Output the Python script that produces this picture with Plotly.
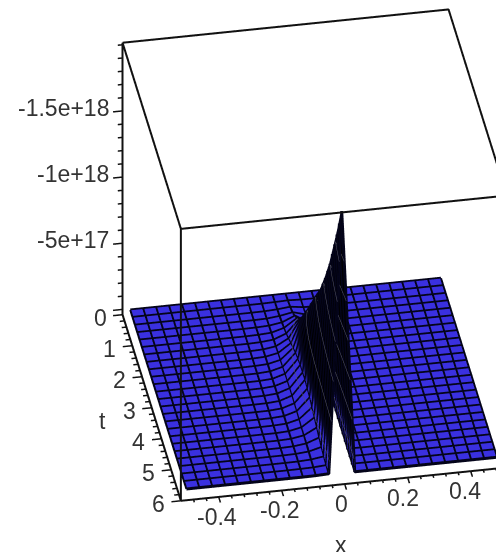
import plotly.graph_objects as go

x_values = [-0.497,-0.4559,-0.4148,-0.3737,-0.3326,-0.2915,-0.2504,-0.2093,-0.1682,-0.1271,-0.086,-0.0449,-0.0038,
            0.0373,0.0784,0.1195,0.1606,0.2017,0.2428,0.2839,0.325,0.3661,0.4072,0.4483,0.4894]
t_values = [0.05,0.29,0.54,0.78,1.02,1.26,1.5,1.74,1.98,2.22,2.46,2.7,2.94,
            3.18,3.42,3.66,3.9,4.14,4.38,4.62,4.86,5.1,5.34,5.58,5.82]
# depth of the ridge in units of 1e17, columns x = -0.1682 ... 0.0784, one row per t
ridge_rows = [
 [0,0,0,0,0,0,0],
 [0,0,0,0.02,0.05,0.01,0],
 [0,0,0.01,0.06,0.15,0.02,0],
 [0,0,0.02,0.12,0.3,0.03,0],
 [0,0.01,0.05,0.2,0.6,0.04,0],
 [0,0.02,0.08,0.35,1.0,0.06,0],
 [0,0.03,0.12,0.5,1.5,0.08,0],
 [0.01,0.04,0.18,0.7,2.2,0.1,0],
 [0.01,0.05,0.24,0.9,3.0,0.12,0],
 [0.01,0.06,0.28,1.1,3.8,0.14,0],
 [0.01,0.07,0.32,1.3,4.6,0.15,0],
 [0.01,0.07,0.36,1.4,5.5,0.15,0],
 [0.01,0.08,0.38,1.5,6.3,0.15,0],
 [0.01,0.08,0.4,1.5,7.2,0.15,0],
 [0.01,0.08,0.4,1.5,8.0,0.14,0],
 [0.01,0.08,0.38,1.4,8.8,0.12,0],
 [0.01,0.07,0.35,1.3,9.8,0.1,0],
 [0.01,0.06,0.3,1.1,10.8,0.08,0],
 [0,0.05,0.25,0.9,11.9,0.06,0],
 [0,0.04,0.2,0.7,13.0,0.05,0],
 [0,0.03,0.15,0.5,14.3,0.04,0],
 [0,0.02,0.1,0.35,15.6,0.03,0],
 [0,0.01,0.06,0.2,16.9,0.02,0],
 [0,0.01,0.03,0.1,18.3,0.01,0],
 [0,0,0.01,0.05,19.8,0,0],
]
ridge_start_column = 8

x_range = [-0.52, 0.515]
t_range = [0.0, 6.0]
z_range = [-2.015e18, 0.04e18]

z_major = [0, -5e17, -1e18, -1.5e18]
z_major_labels = ["0", "-5e+17", "-1e+18", "-1.5e+18"]
z_minor = [-1e17*k for k in range(0, 21)]
t_major = [0, 1, 2, 3, 4, 5, 6]
t_minor = [0.2*k for k in range(0, 31)]
x_major = [-0.4, -0.2, 0, 0.2, 0.4]
x_major_labels = ["-0.4", "-0.2", "0", "0.2", "0.4"]
x_label_nudge = [-2, -2, -3, -5, -6]
x_minor = [-0.48+0.04*k for k in range(0, 25)]

BLUE = "#3a30e0"
GRID = "#04041a"
TEXT = "#333333"
FONT = "Liberation Sans"
FS = 23

def Y(t): return -t
def Z(z): return -z

z_grid = []
for row in ridge_rows:
    cells = [0.0]*len(x_values)
    for k, v in enumerate(row):
        cells[ridge_start_column+k] = v*1e17
    z_grid.append(cells)

x0, x1 = x_range; t0, t1 = t_range; zlo, zhi = z_range

fig = go.Figure()
fig.add_surface(
    x=x_values, y=[Y(t) for t in t_values], z=z_grid, surfacecolor=z_grid,
    cmin=0, cmax=20e17,
    colorscale=[[0, BLUE], [0.07, BLUE], [0.1, "#0a0a30"], [0.14, "#000000"], [1, "#000000"]],
    showscale=False, hoverinfo="skip",
    lighting=dict(ambient=1, diffuse=0, specular=0, roughness=1, fresnel=0),
    contours=dict(
        x=dict(show=False), y=dict(show=False),
        z=dict(show=True, start=1e17, end=19e17, size=3e17, color="#555566", width=2),
    ),
)

lift = 1.5e15
gx, gy, gz = [], [], []
for j, t in enumerate(t_values):
    gx += x_values + [None]
    gy += [Y(t)]*len(x_values) + [None]
    gz += [v + lift for v in z_grid[j]] + [None]
fig.add_scatter3d(x=gx, y=gy, z=gz, mode="lines", hoverinfo="skip", showlegend=False,
                  line=dict(color=GRID, width=6))
gx, gy, gz = [], [], []
for i, x in enumerate(x_values):
    gx += [x]*len(t_values) + [None]
    gy += [Y(t) for t in t_values] + [None]
    gz += [z_grid[j][i] + lift for j in range(len(t_values))] + [None]
fig.add_scatter3d(x=gx, y=gy, z=gz, mode="lines", hoverinfo="skip", showlegend=False,
                  line=dict(color=GRID, width=4))

def polyline(xs, ys, zs, width=4):
    fig.add_scatter3d(x=xs, y=[None if v is None else Y(v) for v in ys],
                      z=[None if v is None else Z(v) for v in zs],
                      mode="lines", hoverinfo="skip", showlegend=False,
                      line=dict(color="#111111", width=width))

polyline([x0,x0],[t0,t0],[zlo,zhi])
polyline([x0,x0],[t1,t1],[zlo,zhi])
polyline([x0,x1,x1,x0,x0],[t0,t0,t1,t1,t0],[zlo]*5)
polyline([x0,x0],[t0,t1],[zhi,zhi])
polyline([x0,x1],[t1,t1],[zhi,zhi])

def ticks(minor, major, make):
    xs, ys, zs = [], [], []
    for v in minor:
        ln = 0.030 if any(abs(v-m) < 1e-6*max(1, abs(m)) for m in major) else 0.015
        a, b = make(v, ln)
        xs += [a[0], b[0], None]; ys += [a[1], b[1], None]; zs += [a[2], b[2], None]
    polyline(xs, ys, zs, width=3)

ticks(z_minor, z_major, lambda v, ln: ((x0, t0, v), (x0-ln, t0, v)))
ticks(t_minor, t_major, lambda v, ln: ((x0, v, zhi), (x0-ln, v, zhi)))
ticks(x_minor, x_major, lambda v, ln: ((v, t1, zhi), (v, t1+ln*6, zhi)))

ann = []
for v, s in zip(z_major, z_major_labels):
    if v == 0:
        continue
    ann.append(dict(x=x0, y=Y(t0), z=Z(v), text=s, xanchor="right", yanchor="middle", xshift=-12, yshift=3))
for v in t_major:
    ann.append(dict(x=x0, y=Y(v), z=Z(zhi), text=str(v), xanchor="right", yanchor="middle", xshift=-14, yshift=-3))
for v, s, d in zip(x_major, x_major_labels, x_label_nudge):
    ann.append(dict(x=v, y=Y(t1), z=Z(zhi), text=s, xanchor="center", yanchor="top", xshift=d, yshift=-5))
ann.append(dict(x=x0, y=Y(3.0), z=Z(zhi), text="t", xanchor="center", yanchor="middle", xshift=-49, yshift=-13))
ann.append(dict(x=0, y=Y(t1), z=Z(zhi), text="x", xanchor="center", yanchor="top", xshift=-4, yshift=-46))
for a in ann:
    a.update(showarrow=False, font=dict(family=FONT, size=FS, color=TEXT))

hidden = dict(visible=False, showspikes=False)
pad = 1.2
def padded(a, b):
    c, h = (a+b)/2, (b-a)/2*pad
    return [c-h, c+h]
box_scale = 1.20
k = 2.5
n = (-0.1447, -0.8084, 0.571)
r1 = (0.9845, -0.1762, 0.0)
r2 = (0.1006, 0.562, 0.8211)
shift_right, shift_up = 65.5, 20.5
center = tuple(-(shift_right/271)*a - (shift_up/271)*b for a, b in zip(r1, r2))
asp = box_scale*pad
fig.update_layout(
    width=496, height=552, margin=dict(l=0, r=0, t=0, b=0),
    paper_bgcolor="white", showlegend=False,
    scene=dict(
        domain=dict(x=[0, 1], y=[0, 1]),
        xaxis=dict(range=padded(x0, x1), **hidden),
        yaxis=dict(range=padded(Y(t1), Y(t0)), **hidden),
        zaxis=dict(range=padded(Z(zhi), Z(zlo)), **hidden),
        aspectmode="manual", aspectratio=dict(x=asp, y=asp, z=asp),
        camera=dict(
            projection=dict(type="orthographic"),
            up=dict(x=0, y=0, z=1),
            center=dict(x=center[0], y=center[1], z=center[2]),
            eye=dict(x=center[0]+k*n[0], y=center[1]+k*n[1], z=center[2]+k*n[2]),
        ),
        annotations=ann,
    ),
)
fig.write_html("out.html", config=dict(displayModeBar=False),
               post_script="document.body.style.margin='0';")
